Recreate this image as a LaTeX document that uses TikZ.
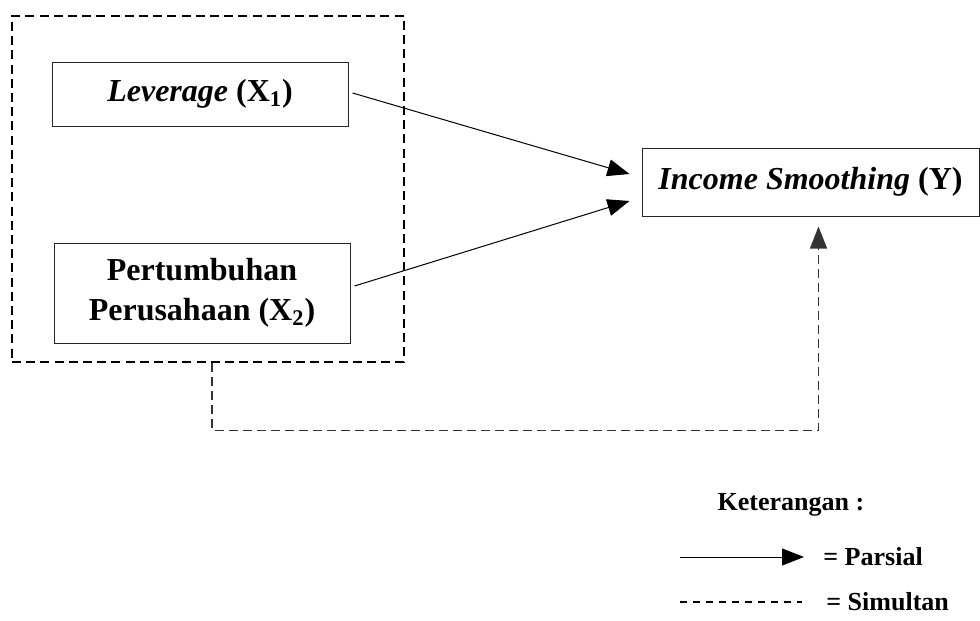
\documentclass[tikz,border=0pt]{standalone}
\usepackage{fontspec}
\setmainfont{Liberation Serif}
\usepackage{tikz}
\usetikzlibrary{arrows.meta, positioning, calc}
\tikzset{
  % Variable boxes
  varbox/.style={
    rectangle, draw=black!85, line width=0.5pt, fill=white,
    minimum width=148pt, minimum height=#1, inner sep=2pt,
    font=\fontsize{16}{20}\selectfont\bfseries, align=center,
  },
  varbox/.default={32pt},
  % Group frame
  groupbox/.style={
    rectangle, draw=black, line width=1.1pt, dash pattern=on 4.5pt off 2.6pt,
    minimum width=196pt, minimum height=173pt, inner sep=0pt,
  },
  % Arrows
  parsial/.style={-{Triangle[length=11pt, width=8.5pt]}, line width=0.5pt, black},
  simultan/.style={-{Triangle[length=11pt, width=8.5pt]}, line width=0.55pt, black!80,
    dash pattern=on 4.5pt off 2.5pt},
  % Legend text
  legtext/.style={font=\fontsize{13}{15}\selectfont\bfseries, inner sep=0pt},
}

\begin{document}
\begin{tikzpicture}[x=0.5pt, y=-0.5pt]
  \useasboundingbox (0,0) rectangle (980,621);

  % Independent variables
  \node[varbox] (lev) at (200,94) {\textit{Leverage} (X\textsubscript{1})};
  \node[varbox=50pt] (per) at (202,293) {Pertumbuhan\\Perusahaan (X\textsubscript{2})};

  % Frame around X1 and X2
  \node[groupbox] (grp) at (208,189) {};

  % Dependent variable
  \node[varbox, minimum width=168.5pt, minimum height=34pt] (inc) at (810.5,182)
    {\textit{Income Smoothing} (Y)};

  % Partial effects
  \draw[parsial] ([shift={(4,-1)}]lev.east) -- ([shift={(-12,-8)}]inc.west);
  \draw[parsial] ([shift={(4,-7)}]per.east) -- ([shift={(-12,19)}]inc.west);

  % Simultaneous effect
  \coordinate (sbend) at ($(grp.south)+(4,67)$);
  \draw[simultan] ([xshift=2pt]grp.south) -- (sbend) -| ([shift={(8,10)}]inc.south);

  % Legend
  \node[legtext] (ket) at (791,505) {Keterangan :};
  \node[legtext, anchor=west] (par) at (823,557) {= Parsial};
  \node[legtext, anchor=west] (sim) at (826,602) {= Simultan};
  \coordinate (lpar) at (680,557);
  \coordinate (lsim) at (680,602);
  \draw[parsial] (lpar) -- ([xshift=-9.5pt]par.west);
  \draw[line width=0.7pt, dash pattern=on 3.5pt off 3pt] (lsim) -- ([xshift=-12pt]sim.west);

\end{tikzpicture}
\end{document}
